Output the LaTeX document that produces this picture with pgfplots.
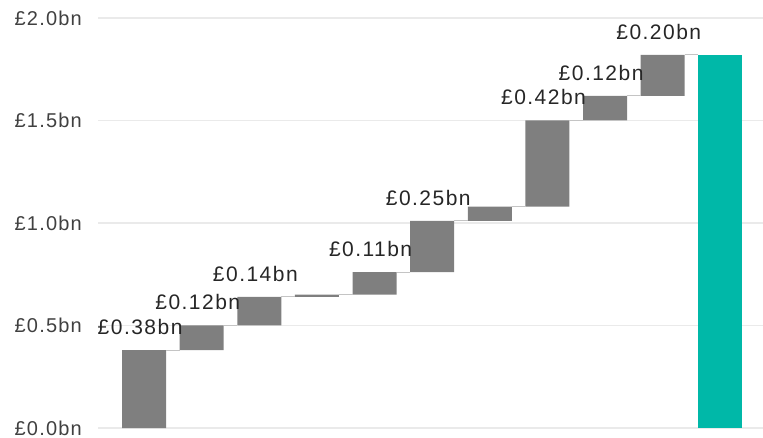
\documentclass[border=0pt]{standalone}
\usepackage{pgfplots}
\usepackage{pgfplotstable}
\pgfplotsset{compat=1.18}
\usepackage{fontspec}
\setmainfont{Liberation Sans}
\newfontfamily\lblfont[LetterSpace=7]{Liberation Sans}
\newfontfamily\tickfont[LetterSpace=6]{Liberation Sans}
\definecolor{barGray}{HTML}{7F7F7F}
\definecolor{totalTeal}{HTML}{00B8A8}
\definecolor{gridGray}{HTML}{EAEAEA}
\definecolor{connGray}{HTML}{C4C4C4}
\definecolor{tickText}{HTML}{404040}
\definecolor{lblText}{HTML}{262626}

\pgfplotstableread{
x base delta total
0 0 0.38 0
1 0.38 0.12 0
2 0.50 0.14 0
3 0.64 0.01 0
4 0.65 0.11 0
5 0.76 0.25 0
6 1.01 0.07 0
7 1.08 0.42 0
8 1.50 0.12 0
9 1.62 0.20 0
10 0 0 1.82
}\bars

\pgfplotstableread[col sep=comma]{
x,top,label
0,0.38,£0.38bn
1,0.50,£0.12bn
2,0.64,£0.14bn
4,0.76,£0.11bn
5,1.01,£0.25bn
7,1.50,£0.42bn
8,1.62,£0.12bn
9,1.82,£0.20bn
}\labels

\pgfplotstableread{
x y
0.38 0.38
0.62 0.38
nan nan
1.38 0.50
1.62 0.50
nan nan
2.38 0.64
2.62 0.64
nan nan
3.38 0.65
3.62 0.65
nan nan
4.38 0.76
4.62 0.76
nan nan
5.38 1.01
5.62 1.01
nan nan
6.38 1.08
6.62 1.08
nan nan
7.38 1.50
7.62 1.50
nan nan
8.38 1.62
8.62 1.62
nan nan
9.38 1.82
9.62 1.82
}\conn

\pgfplotsset{
  wf/.style={
    scale only axis, width=665bp, height=410bp,
    xmin=-0.8, xmax=10.74, ymin=0, ymax=2,
    at={(98bp,10bp)}, anchor=south west,
    clip=false,
  }
}

\begin{document}
\begin{tikzpicture}
\begin{axis}[wf,
  ybar stacked, bar width=44bp,
  axis line style={draw=none},
  xtick=\empty,
  ytick={0,0.5,1,1.5,2},
  yticklabels={£0.0bn,£0.5bn,£1.0bn,£1.5bn,£2.0bn},
  major tick length=0pt,
  ymajorgrids, grid style={gridGray, line width=1.6bp},
  yticklabel style={font=\fontsize{20bp}{24bp}\tickfont, text=tickText, inner sep=0pt, anchor=east, xshift=-16bp},
]
\addplot[draw=none, fill=none] table[x=x, y=base] {\bars};
\addplot[draw=none, fill=barGray] table[x=x, y=delta] {\bars};
\addplot[draw=none, fill=totalTeal] table[x=x, y=total] {\bars};
\end{axis}
\begin{axis}[wf, hide axis]
\addplot[connGray, line width=1bp, unbounded coords=jump] table[x=x, y=y] {\conn};
\addplot[draw=none, mark=none, nodes near coords, point meta=explicit symbolic,
  nodes near coords style={font=\fontsize{21bp}{24bp}\lblfont, text=lblText, anchor=base, inner sep=0pt, yshift=15.5bp, xshift=-4bp}]
  table[x=x, y=top, meta=label] {\labels};
\end{axis}
\pgfresetboundingbox
\path[use as bounding box] (0,0) rectangle (763bp,438bp);
\end{tikzpicture}
\end{document}
